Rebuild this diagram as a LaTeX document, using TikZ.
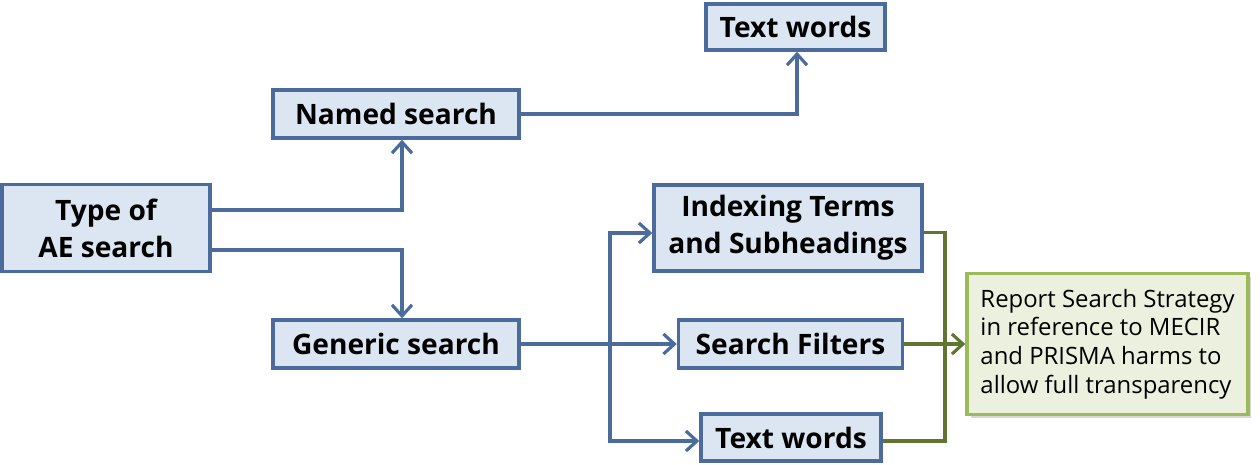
\documentclass[tikz,border=0pt]{standalone}
\usepackage{fontspec}
\setmainfont{Open Sans}
\usetikzlibrary{arrows.meta,shadows}
\definecolor{boxblue}{HTML}{DCE6F2}
\definecolor{lineblue}{HTML}{4A6B9C}
\definecolor{boxgreen}{HTML}{EBF1DE}
\definecolor{edgegreen}{HTML}{9BBB59}
\definecolor{linegreen}{HTML}{5F7530}
\tikzset{
	bluebox/.style={draw=lineblue, line width=2pt, fill=boxblue, inner sep=0pt,
		font=\fontsize{16}{21}\selectfont\bfseries, align=center},
	greenbox/.style={draw=edgegreen, line width=2pt, fill=boxgreen, inner sep=0pt,
		font=\fontsize{13.6}{16.3}\selectfont, align=left,
		drop shadow={shadow xshift=0.07cm, shadow yshift=-0.07cm, fill=black!30}},
	blueline/.style={draw=lineblue, line width=1.8pt},
	bluearrow/.style={blueline, -{Straight Barb[length=2.2mm,width=4mm]}},
	greenline/.style={draw=linegreen, line width=1.8pt},
	greenarrow/.style={greenline, -{Straight Barb[length=2.2mm,width=4mm]}}
}

\begin{document}
\begin{tikzpicture}[x=0.02cm, y=-0.02cm]
		%%%%% START %%%%%
		\useasboundingbox (0, 0) rectangle (1260, 464);
		
		\node[bluebox, minimum width=4.16cm, minimum height=1.74cm] (type) at (106, 228) {Type of\\AE search};
		\node[bluebox, minimum width=4.92cm, minimum height=0.96cm] (named) at (396, 114) {Named search};
		\node[bluebox, minimum width=4.92cm, minimum height=0.96cm] (generic) at (396, 344) {Generic search};
		\node[bluebox, minimum width=3.58cm, minimum height=0.92cm] (textnamed) at (795.5, 27) {Text words};
		
		\node[bluebox, minimum width=5.36cm, minimum height=1.72cm] (indexing) at (788, 228) {Indexing Terms\\and Subheadings};
		\node[bluebox, minimum width=4.48cm, minimum height=0.96cm] (filters) at (790.5, 344) {Search Filters};
		\node[bluebox, minimum width=3.6cm, minimum height=0.94cm] (textgeneric) at (791, 437.5) {Text words};
		
		\node[greenbox, minimum width=5.62cm, minimum height=2.82cm] (report) at (1107.5, 344) {Report Search Strategy\\in reference to MECIR\\and PRISMA harms to\\allow full transparency};
		
		\draw[bluearrow] ([yshift=0.36cm]type.east) -| ([xshift=0.12cm]named.south);
		\draw[bluearrow] ([yshift=-0.44cm]type.east) -| ([xshift=0.12cm]generic.north);
		\draw[bluearrow] (named.east) -| ([xshift=0.03cm]textnamed.south);
		
		\coordinate (split) at (610, 344);
		\draw[bluearrow] (generic.east) -- (filters.west);
		\draw[bluearrow] (split) |- ([yshift=-0.1cm]indexing.west);
		\draw[bluearrow] (split) |- ([yshift=-0.07cm]textgeneric.west);
		
		\coordinate (join) at (945, 344);
		\draw[greenline] ([yshift=-0.09cm]indexing.east) -| (join);
		\draw[greenline] ([yshift=-0.07cm]textgeneric.east) -| (join);
		\draw[greenarrow] (filters.east) -- (report.west);
		
		%%%%% END %%%%%
	\end{tikzpicture}
\end{document}
